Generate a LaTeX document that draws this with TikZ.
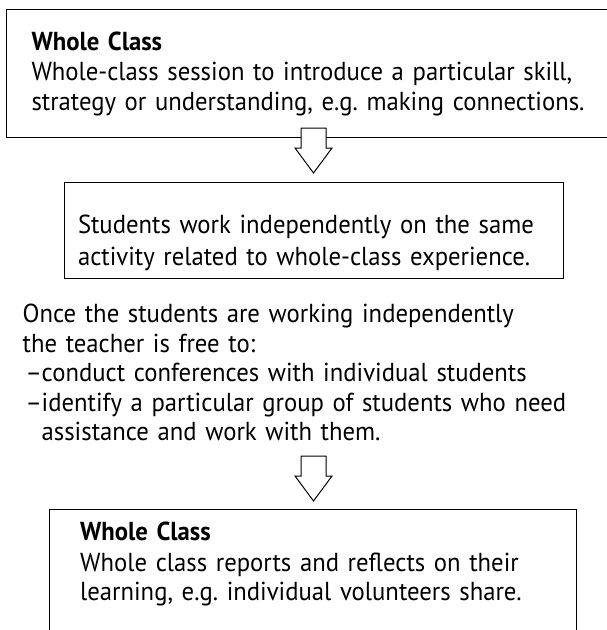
\documentclass[tikz,border=0pt]{standalone}
\usepackage{fontspec}
\setmainfont{PT Sans}[FakeStretch=0.95]
\usetikzlibrary{positioning}
\frenchspacing

\tikzset{
  panel/.style={draw, line width=1pt, align=left, inner ysep=0pt,
    font=\fontsize{26}{30}\selectfont},
  hollow/.style={draw, line width=1pt, fill=white},
  plain/.style={align=left, inner sep=0pt, font=\fontsize{26}{29.5}\selectfont}
}

\begin{document}
\begin{tikzpicture}[x=1pt, y=-1pt]
    \useasboundingbox (0,0) rectangle (606,630);
    % first stage: whole class
    \node[panel, anchor=north west, text width=564pt, inner xsep=25pt,
      minimum height=128pt] (box1) at (6,9)
      {\textbf{Whole Class}\\
       Whole-class session to introduce a particular skill,\\
       strategy or understanding, e.g. making connections.};
    % independent work
    \node[panel, text width=471pt, inner xsep=14pt, minimum height=96pt,
      below=44pt of box1] (box2)
      {\rule{0pt}{44pt}Students work independently on the same\\[2pt]
       activity related to whole-class experience.};
    \node[plain, anchor=north west, text width=580pt] (free) at (22.5,304)
      {Once the students are working independently\\
       the teacher is free to:\\
       \makebox[19pt][l]{\hspace{3pt}–}conduct conferences with individual students\\
       \makebox[19pt][l]{\hspace{3pt}–}identify a particular group of students who need\\
       \hspace*{19pt}assistance and work with them.};
    % last stage: whole class again
    \node[plain, anchor=north west, text width=496pt] (box3) at (80,522)
      {\textbf{Whole Class}\\[1pt]
       Whole class reports and reflects on their\\
       learning, e.g. individual volunteers share.};
    \draw[line width=1pt] (49,650) -- (49,509) -- (576,509) -- (576,650);
    % block arrows
    \coordinate (arrA) at (313.5,128);
    \coordinate (arrB) at (313.5,456);
    \foreach \a in {arrA, arrB}
      \draw[hollow] (\a) ++(-12.5,0) -- ++(0,20) -- ++(-6,0) -- ++(18.5,25)
        -- ++(18.5,-25) -- ++(-6,0) -- ++(0,-20) -- cycle;
\end{tikzpicture}
\end{document}
